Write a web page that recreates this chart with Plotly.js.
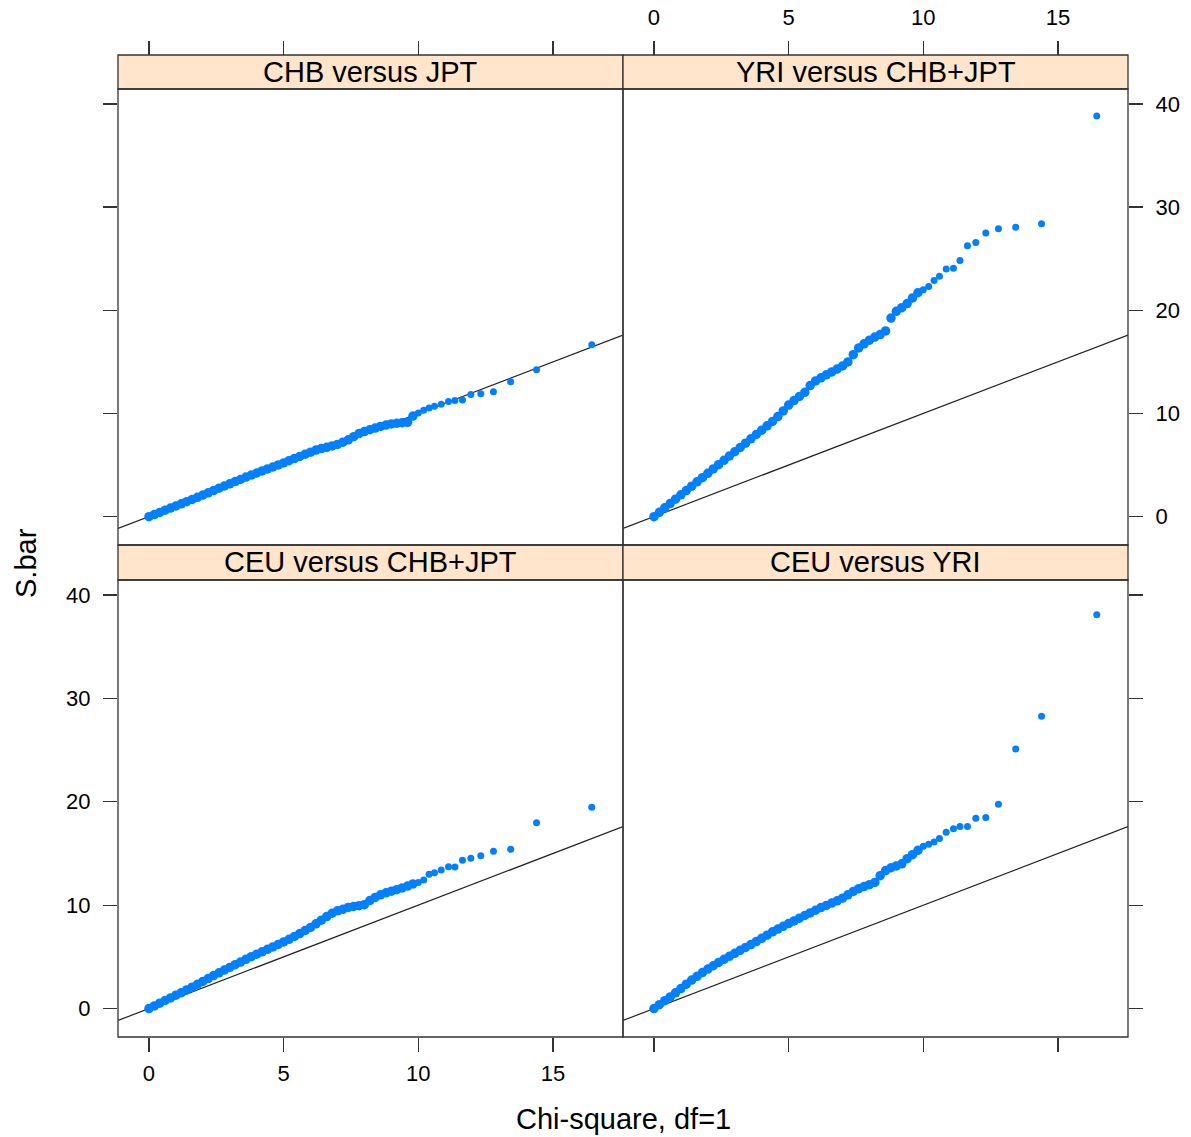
<!DOCTYPE html>
<html><head><meta charset="utf-8">
<script src="https://cdn.plot.ly/plotly-3.0.1.min.js"></script>
<style>html,body{margin:0;padding:0;background:#fff}#chart{width:1191px;height:1137px}</style>
</head><body><div id="chart"></div>
<script>
// ---- data ----
const panelTitles = ["CEU versus CHB+JPT", "CEU versus YRI", "CHB versus JPT", "YRI versus CHB+JPT"];
const xTitle = "Chi-square, df=1";
const yTitle = "S.bar";
const xTicks = [0, 5, 10, 15];
const yTicks = [0, 10, 20, 30, 40];

const chisqQuantiles = [0,0.2,0.4,0.6,0.8,1.0,1.2,1.4,1.6,1.8,2.0,2.2,2.4,2.6,2.8,3.0,3.2,3.4,3.6,3.8,
  4.0,4.2,4.4,4.6,4.8,5.0,5.2,5.4,5.6,5.8,6.0,6.2,6.4,6.6,6.8,7.0,7.2,7.4,7.6,7.8,
  8.0,8.2,8.4,8.6,8.8,9.0,9.2,9.4,9.6,9.8,10.0,10.2,10.4,10.6,10.85,
  11.12,11.36,11.64,11.95,12.32,12.79,13.43,14.39,16.44];

const sbarCHBvsJPT = [0,0.2,0.41,0.62,0.83,1.03,1.24,1.45,1.66,1.87,2.09,2.31,2.53,2.75,2.97,3.18,3.4,3.61,3.83,4.03,
  4.23,4.43,4.62,4.81,5.01,5.21,5.42,5.63,5.84,6.05,6.25,6.45,6.6,6.72,6.85,7.0,7.22,7.45,7.75,8.05,
  8.25,8.42,8.58,8.74,8.88,8.98,9.05,9.1,9.14,9.75,10.05,10.3,10.52,10.7,10.9,
  11.15,11.25,11.3,11.84,11.9,12.1,13.08,14.24,16.67];

const sbarYRIvsCHBJPT = [0,0.42,0.85,1.27,1.69,2.11,2.53,2.95,3.37,3.78,4.2,4.62,5.04,5.46,5.87,6.29,6.7,7.12,7.54,7.96,
  8.38,8.8,9.22,9.7,10.25,10.81,11.25,11.65,12.05,12.7,13.15,13.45,13.75,14.03,14.3,14.6,15.0,15.7,16.35,16.75,
  17.1,17.4,17.65,18.0,19.25,19.9,20.25,20.65,21.2,21.7,22.0,22.3,22.9,23.3,24.0,
  24.08,24.82,26.25,26.57,27.48,27.9,28.06,28.38,38.83];

const sbarCEUvsCHBJPT = [0,0.26,0.52,0.78,1.03,1.29,1.54,1.8,2.07,2.34,2.62,2.9,3.19,3.46,3.72,3.98,4.24,4.5,4.76,5.02,
  5.26,5.49,5.73,5.96,6.2,6.44,6.7,6.97,7.25,7.55,7.85,8.2,8.55,8.9,9.22,9.45,9.6,9.78,9.88,9.95,
  10.05,10.45,10.75,11.0,11.2,11.35,11.5,11.67,11.85,12.05,12.2,12.43,12.98,13.14,13.4,
  13.72,13.69,14.34,14.53,14.79,15.21,15.4,17.96,19.48];

const sbarCEUvsYRI = [0,0.38,0.76,1.13,1.52,1.93,2.36,2.76,3.12,3.48,3.82,4.14,4.46,4.76,5.05,5.34,5.63,5.91,6.19,6.48,
  6.79,7.1,7.42,7.69,7.96,8.22,8.48,8.74,9.0,9.25,9.51,9.77,9.98,10.2,10.42,10.68,11.0,11.33,11.6,11.8,
  11.98,12.2,12.85,13.35,13.62,13.8,14.0,14.5,14.88,15.3,15.7,15.89,16.1,16.45,17.05,
  17.38,17.6,17.6,18.41,18.48,19.77,25.11,28.28,38.09];

// ---- geometry / style ----
const W = 1191, H = 1137;
const FONT = "Liberation Sans, Arial, Helvetica, sans-serif";
const px = v => v / W;
const py = v => 1 - v / H;
const colL = [px(118), px(623)], colR = [px(623), px(1128)];
const rowT = [py(545), py(89)], rowB = [py(1037), py(580)];
const stripT = [py(89), py(55)], stripB = [py(580), py(545)];
const xRange = [-1.15, 17.6];
const yRange = [-2.75, 41.45];
const frame = '#333333';
// dense part of the sample (many overlapping points) drawn as a thicker band
const markerSizes = chisqQuantiles.map(q => q < 10 ? 9.5 : 7);

const panels = [
  {xa: 'x',  ya: 'y',  y: sbarCEUvsCHBJPT, title: panelTitles[0], col: colL, strip: stripB},
  {xa: 'x2', ya: 'y2', y: sbarCEUvsYRI,    title: panelTitles[1], col: colR, strip: stripB},
  {xa: 'x3', ya: 'y3', y: sbarCHBvsJPT,    title: panelTitles[2], col: colL, strip: stripT},
  {xa: 'x4', ya: 'y4', y: sbarYRIvsCHBJPT, title: panelTitles[3], col: colR, strip: stripT}
];

const traces = [];
panels.forEach(p => {
  traces.push({type: 'scatter', mode: 'lines', x: xRange, y: xRange, xaxis: p.xa, yaxis: p.ya,
    line: {color: '#222', width: 1.2}, hoverinfo: 'skip'});
});
panels.forEach(p => {
  traces.push({type: 'scatter', mode: 'markers', x: chisqQuantiles, y: p.y, xaxis: p.xa, yaxis: p.ya,
    marker: {color: '#0080ff', size: markerSizes, opacity: 1, line: {width: 0}}, name: p.title});
});

const axCommon = {showgrid: false, zeroline: false, showline: false, ticks: 'outside', ticklen: 14,
  tickwidth: 1.3, tickcolor: frame, tickfont: {family: FONT, size: 22, color: '#000'}, ticklabelstandoff: 8};
const xax = (o) => Object.assign({}, axCommon, {range: xRange, tickvals: xTicks, ticktext: xTicks.map(String)}, o);
const yax = (o) => Object.assign({}, axCommon, {range: yRange, tickvals: yTicks, ticktext: yTicks.map(String)}, o);

const shapes = [];
const annotations = [];
panels.forEach(p => {
  const row = p.strip === stripT ? rowT : rowB;
  shapes.push({type: 'rect', xref: 'paper', yref: 'paper', x0: p.col[0], x1: p.col[1], y0: p.strip[0], y1: p.strip[1],
    fillcolor: '#ffe5cc', line: {color: frame, width: 1.3}, layer: 'below'});
  shapes.push({type: 'rect', xref: 'paper', yref: 'paper', x0: p.col[0], x1: p.col[1], y0: row[0], y1: row[1],
    fillcolor: 'rgba(0,0,0,0)', line: {color: frame, width: 1.3}, layer: 'above'});
  annotations.push({xref: 'paper', yref: 'paper', x: (p.col[0] + p.col[1]) / 2, y: (p.strip[0] + p.strip[1]) / 2,
    xanchor: 'center', yanchor: 'middle', text: p.title, showarrow: false, font: {family: FONT, size: 29, color: '#000'}});
});
annotations.push({xref: 'paper', yref: 'paper', x: px(623), y: py(1119), xanchor: 'center', yanchor: 'middle',
  text: xTitle, showarrow: false, font: {family: FONT, size: 29, color: '#000'}});
annotations.push({xref: 'paper', yref: 'paper', x: px(26), y: py(563), xanchor: 'center', yanchor: 'middle',
  text: yTitle, textangle: -90, showarrow: false, font: {family: FONT, size: 29, color: '#000'}});

const layout = {
  width: W, height: H, margin: {l: 0, r: 0, t: 0, b: 0},
  paper_bgcolor: '#fff', plot_bgcolor: '#fff', showlegend: false,
  font: {family: FONT, size: 22, color: '#000'},
  xaxis:  xax({domain: colL, anchor: 'y',  side: 'bottom', showticklabels: true, ticklabelstandoff: 3}),
  xaxis2: xax({domain: colR, anchor: 'y2', side: 'bottom', showticklabels: false}),
  xaxis3: xax({domain: colL, anchor: 'free', position: stripT[1], side: 'top', showticklabels: false}),
  xaxis4: xax({domain: colR, anchor: 'free', position: stripT[1], side: 'top', showticklabels: true, ticklabelstandoff: 7}),
  yaxis:  yax({domain: rowB, anchor: 'x',  side: 'left',  showticklabels: true}),
  yaxis2: yax({domain: rowB, anchor: 'x2', side: 'right', showticklabels: false}),
  yaxis3: yax({domain: rowT, anchor: 'x3', side: 'left',  showticklabels: false}),
  yaxis4: yax({domain: rowT, anchor: 'x4', side: 'right', showticklabels: true}),
  shapes: shapes, annotations: annotations
};

Plotly.newPlot('chart', traces, layout, {displayModeBar: false, staticPlot: true});
</script>
</body></html>
